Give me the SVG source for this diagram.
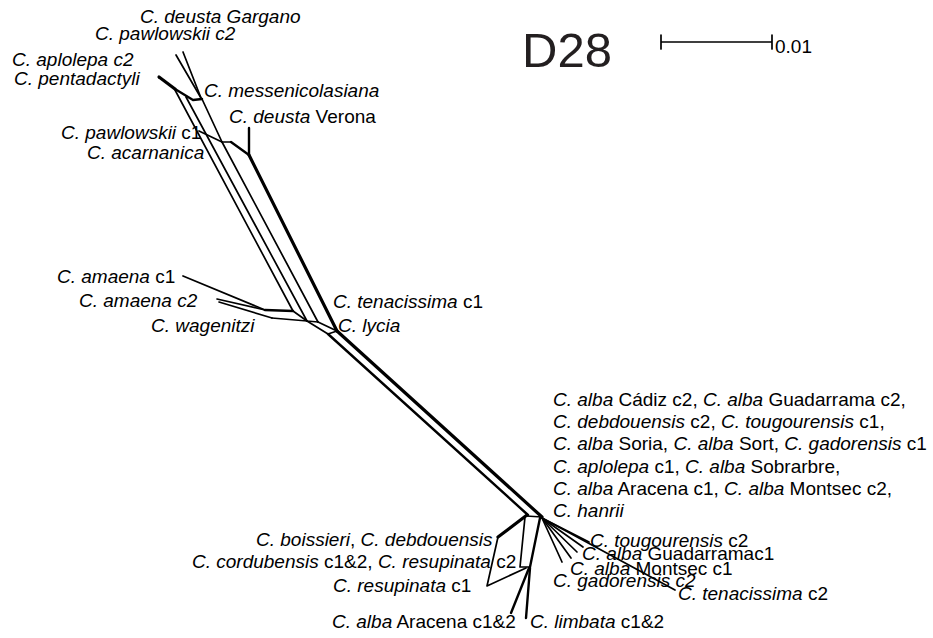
<svg xmlns="http://www.w3.org/2000/svg" width="933" height="638" viewBox="0 0 933 638">
  <style>
    text { font-family: "Liberation Sans", Arial, sans-serif; font-size: 19px; fill: #000; }
    .i { font-style: italic; }
    .e { fill: none; stroke: #000; stroke-width: 1.7; stroke-linejoin: round; stroke-linecap: round; }
    .t { fill: none; stroke: #000; stroke-width: 3.2; stroke-linejoin: round; stroke-linecap: round; }
    .m { fill: none; stroke: #000; stroke-width: 2.4; stroke-linejoin: round; stroke-linecap: round; }
  </style>
  <rect width="933" height="638" fill="#fff"/>

  <!-- title and scale bar -->
  <g id="title">
    <text x="522" y="67" style="font-size:49px;fill:#231f20">D28</text>
  </g>
  <g id="scale">
    <path class="e" d="M661,42 H772 M661,35 V49 M772,35 V49"/>
    <text x="775" y="53">0.01</text>
  </g>

  <!-- network edges -->
  <g id="edges">
    <!-- top cluster -->
    <path class="e" d="M176,55 L201,98"/>
    <path class="e" d="M183,52 L201,98"/>
    <path class="t" d="M159,77 L175,89"/>
    <path class="m" d="M175,89 L193,100 L202,99"/>
    <path class="e" d="M202,99 L222,142"/>
    <path class="e" d="M199,131 L222,142 L231,142"/>
    <path class="m" d="M231,142 L249,155"/>
    <path class="m" d="M249,128 L249,155"/>
    <!-- long parallel strands -->
    <path class="e" d="M175,90 L293,311"/>
    <path class="e" d="M186,97 L307,321"/>
    <path class="e" d="M222,142 L318,322"/>
    <path class="t" d="M249,155 L337,331"/>
    <!-- amaena / wagenitzi cluster -->
    <path class="e" d="M183,276 L265,310"/>
    <path class="e" d="M217,299 L265,310"/>
    <path class="e" d="M219,302 L272,318"/>
    <path class="m" d="M265,310 L293,311"/>
    <path class="e" d="M272,318 L307,321"/>
    <path class="e" d="M293,311 L307,321 L318,322"/>
    <path class="e" d="M307,321 L328,334"/>
    <path class="e" d="M318,322 L337,331"/>
    <path class="e" d="M328,334 L337,331"/>
    <!-- central band -->
    <path class="m" d="M328,334 L528,515"/>
    <path class="t" d="M337,331 L542,517"/>
    <path class="e" d="M526,516 L542,517"/>
    <!-- lower-left cluster -->
    <path class="t" d="M527,515 L498,537"/>
    <path class="e" d="M498,537 L487,586 L526,568"/>
    <path class="e" d="M525,517 L520,567 L530,567"/>
    <path class="m" d="M540,518 L530,567"/>
    <path class="m" d="M529,568 L511,613"/>
    <path class="m" d="M530,568 L526,618"/>
    <!-- fan to the lower right -->
    <path class="e" d="M542,518 L562,562"/>
    <path class="e" d="M542,518 L571,558"/>
    <path class="e" d="M542,518 L577,552"/>
    <path class="e" d="M542,518 L583,547"/>
    <path class="e" d="M542,518 L589,542"/>
    <path class="e" d="M542,518 L675,590"/>
  </g>

  <!-- taxon labels -->
  <g id="n-deusta-gargano"><text x="140" y="23" class="i">C. deusta Gargano</text></g>
  <g id="n-pawlowskii-c2"><text x="95" y="40" class="i">C. pawlowskii c2</text></g>
  <g id="n-aplolepa-c2"><text x="12" y="66" class="i">C. aplolepa c2</text></g>
  <g id="n-pentadactyli"><text x="14" y="85" class="i">C. pentadactyli</text></g>
  <g id="n-messenicolasiana"><text x="204" y="97" class="i">C. messenicolasiana</text></g>
  <g id="n-deusta-verona"><text x="229" y="123"><tspan class="i">C. deusta</tspan> Verona</text></g>
  <g id="n-pawlowskii-c1"><text x="61" y="139"><tspan class="i">C. pawlowskii</tspan> c1</text></g>
  <g id="n-acarnanica"><text x="87" y="159" class="i">C. acarnanica</text></g>
  <g id="n-amaena-c1"><text x="57" y="283"><tspan class="i">C. amaena</tspan> c1</text></g>
  <g id="n-amaena-c2"><text x="79" y="307" class="i">C. amaena c2</text></g>
  <g id="n-wagenitzi"><text x="151" y="332" class="i">C. wagenitzi</text></g>
  <g id="n-tenacissima-c1"><text x="333" y="308"><tspan class="i">C. tenacissima</tspan> c1</text></g>
  <g id="n-lycia"><text x="338" y="332" class="i">C. lycia</text></g>

  <g id="n-alba-group">
    <text x="553" y="406"><tspan class="i">C. alba</tspan> Cádiz c2, <tspan class="i">C. alba</tspan> Guadarrama c2,</text>
    <text x="553" y="428"><tspan class="i">C. debdouensis</tspan> c2, <tspan class="i">C. tougourensis</tspan> c1,</text>
    <text x="553" y="450"><tspan class="i">C. alba</tspan> Soria, <tspan class="i">C. alba</tspan> Sort, <tspan class="i">C. gadorensis</tspan> c1</text>
    <text x="553" y="473"><tspan class="i">C. aplolepa</tspan> c1, <tspan class="i">C. alba</tspan> Sobrarbre,</text>
    <text x="553" y="495"><tspan class="i">C. alba</tspan> Aracena c1, <tspan class="i">C. alba</tspan> Montsec c2,</text>
    <text x="553" y="517" class="i">C. hanrii</text>
  </g>
  <g id="n-tougourensis-c2"><text x="590" y="547"><tspan class="i">C. tougourensis</tspan> c2</text></g>
  <g id="n-alba-guadarrama-c1"><text x="582" y="560"><tspan class="i">C. alba</tspan> Guadarramac1</text></g>
  <g id="n-alba-montsec-c1"><text x="570" y="575"><tspan class="i">C. alba</tspan> Montsec c1</text></g>
  <g id="n-gadorensis-c2"><text x="553" y="587" class="i">C. gadorensis c2</text></g>
  <g id="n-tenacissima-c2"><text x="678" y="600"><tspan class="i">C. tenacissima</tspan> c2</text></g>

  <g id="n-boissieri"><text x="256" y="546"><tspan class="i">C. boissieri</tspan>, <tspan class="i">C. debdouensis</tspan></text></g>
  <g id="n-cordubensis"><text x="192" y="568"><tspan class="i">C. cordubensis</tspan> c1&amp;2, <tspan class="i">C. resupinata</tspan> c2</text></g>
  <g id="n-resupinata-c1"><text x="333" y="592"><tspan class="i">C. resupinata</tspan> c1</text></g>
  <g id="n-alba-aracena"><text x="332" y="628"><tspan class="i">C. alba</tspan> Aracena c1&amp;2</text></g>
  <g id="n-limbata"><text x="530" y="628"><tspan class="i">C. limbata</tspan> c1&amp;2</text></g>
</svg>
